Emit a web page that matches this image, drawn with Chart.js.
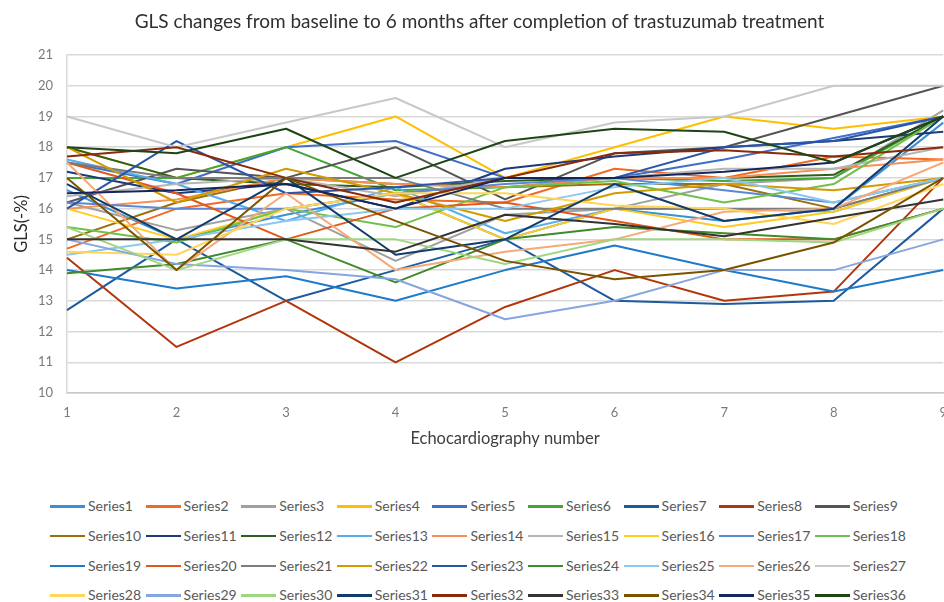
<!DOCTYPE html>
<html>
<head>
<meta charset="utf-8">
<script src="https://cdn.jsdelivr.net/npm/chart.js@4/dist/chart.umd.min.js"></script>
<style>
  html, body { margin: 0; padding: 0; background: #fff; overflow: hidden; }
  #wrap { position: relative; width: 944px; height: 602px; overflow: hidden; }
  #glsChart { position: absolute; left: 0; top: 0; }
  .item { position: absolute; height: 20px; line-height: 20px; white-space: nowrap;
          font-family: Lato, sans-serif; font-size: 14px; color: #595959; }
  .item .swatch { position: absolute; left: 0; top: 9px; width: 35px; height: 2.5px; }
  .item .label { position: absolute; left: 38px; top: 0; }
</style>
</head>
<body>
<div id="wrap">
  <canvas id="glsChart" width="959" height="470"></canvas>
  <div id="legend"></div>
</div>
<script>
// GLS values per patient, echocardiography 1..9
const echoNumbers = ['1', '2', '3', '4', '5', '6', '7', '8', '9'];

const series1  = [16.6, 15.0, 15.8, 16.5, 15.0, 16.0, 15.6, 16.0, 18.8];
const series2  = [14.7, 16.0, 16.5, 16.3, 16.2, 17.3, 17.0, 17.7, 17.6];
const series3  = [16.2, 15.3, 16.0, 14.3, 15.8, 16.0, 16.8, 17.0, 19.2];
const series4  = [18.0, 17.0, 18.0, 19.0, 17.0, 18.0, 19.0, 18.6, 19.0];
const series5  = [17.5, 16.8, 18.0, 18.2, 17.0, 17.0, 17.6, 18.3, 19.0];
const series6  = [17.0, 17.0, 18.0, 16.6, 16.7, 17.0, 16.9, 17.0, 19.0];
const series7  = [12.7, 15.0, 13.0, 14.0, 15.0, 13.0, 12.9, 13.0, 16.0];
const series8  = [14.4, 11.5, 13.0, 11.0, 12.8, 14.0, 13.0, 13.3, 17.0];
const series9  = [16.2, 17.3, 17.0, 18.0, 16.3, 17.8, 18.0, 19.0, 20.0];
const series10 = [15.0, 16.2, 17.0, 16.8, 16.7, 16.8, 16.8, 16.0, 17.0];
const series11 = [17.2, 16.5, 16.8, 16.0, 17.3, 17.7, 18.0, 18.2, 18.5];
const series12 = [18.0, 17.0, 16.8, 16.7, 16.9, 17.0, 17.0, 17.1, 19.0];
const series13 = [17.6, 16.8, 15.6, 16.7, 15.2, 16.0, 16.0, 15.9, 17.0];
const series14 = [16.0, 16.3, 17.0, 16.8, 16.7, 17.0, 17.0, 17.3, 17.6];
const series15 = [16.4, 16.8, 17.0, 16.4, 17.0, 17.0, 17.3, 17.3, 18.0];
const series16 = [16.0, 15.0, 16.0, 16.5, 15.0, 16.0, 15.4, 15.9, 17.0];
const series17 = [16.2, 16.0, 16.0, 16.5, 16.8, 17.0, 16.6, 16.2, 17.0];
const series18 = [15.4, 14.9, 16.0, 15.4, 16.7, 16.9, 16.2, 16.8, 19.0];
const series19 = [14.0, 13.4, 13.8, 13.0, 14.0, 14.8, 14.0, 13.3, 14.0];
const series20 = [17.5, 16.5, 15.0, 16.0, 16.2, 15.6, 15.0, 15.0, 16.0];
const series21 = [17.5, 17.0, 17.0, 17.0, 16.0, 16.0, 16.0, 16.0, 17.0];
const series22 = [18.0, 16.2, 17.3, 16.5, 15.6, 16.5, 16.8, 16.6, 17.0];
const series23 = [16.0, 18.2, 16.5, 16.7, 17.0, 17.0, 18.0, 18.2, 19.0];
const series24 = [13.9, 14.2, 15.0, 13.6, 15.0, 15.4, 15.2, 15.0, 16.0];
const series25 = [14.5, 15.0, 15.6, 16.0, 16.0, 16.7, 17.0, 16.2, 17.0];
const series26 = [17.5, 14.0, 16.5, 14.0, 14.6, 15.0, 15.9, 16.0, 17.5];
const series27 = [19.0, 18.0, 18.8, 19.6, 18.0, 18.8, 19.0, 20.0, 20.0];
const series28 = [14.6, 14.5, 16.0, 16.5, 16.5, 16.1, 16.0, 15.5, 16.8];
const series29 = [15.0, 14.2, 14.0, 13.7, 12.4, 13.0, 14.0, 14.0, 15.0];
const series30 = [15.4, 14.0, 15.0, 15.0, 14.2, 15.0, 15.0, 14.9, 16.0];
const series31 = [16.8, 15.0, 17.0, 14.5, 15.0, 16.8, 15.6, 16.0, 19.0];
const series32 = [17.7, 18.0, 17.0, 16.2, 17.0, 17.8, 17.9, 17.7, 18.0];
const series33 = [15.0, 15.0, 15.0, 14.6, 15.8, 15.5, 15.1, 15.7, 16.3];
const series34 = [17.0, 14.0, 17.0, 15.6, 14.3, 13.7, 14.0, 14.9, 17.0];
const series35 = [16.5, 16.6, 16.8, 16.0, 17.0, 17.0, 17.2, 17.5, 19.0];
const series36 = [18.0, 17.8, 18.6, 17.0, 18.2, 18.6, 18.5, 17.5, 19.0];

const allSeries = [
  series1, series2, series3, series4, series5, series6, series7, series8, series9,
  series10, series11, series12, series13, series14, series15, series16, series17, series18,
  series19, series20, series21, series22, series23, series24, series25, series26, series27,
  series28, series29, series30, series31, series32, series33, series34, series35, series36
];

// office style palette
const colors = [
  '#3a8fd9', '#f26b21', '#a0a0a0', '#ffbf00', '#3f6fc9', '#45a535', '#1d5a9e', '#b2360c', '#555555',
  '#99700a', '#1f3a7a', '#2f5f1e', '#55adeb', '#f59155', '#b5b5b5', '#ffcb1f', '#5b88d6', '#6fc04c',
  '#1f7ac9', '#e2581a', '#7d7d7d', '#d29b00', '#2a55a8', '#3f8a2a', '#8cc7ee', '#f6a97a', '#c8c8c8',
  '#ffd65a', '#86a6e0', '#9fd680', '#123d6b', '#8a2a08', '#333333', '#7a5300', '#15265a', '#1f4515'
];

const tickFont = { family: 'Lato', size: 13 };

const datasets = allSeries.map((values, i) => ({
  label: 'Series' + (i + 1),
  data: values,
  borderColor: colors[i],
  backgroundColor: colors[i],
  borderWidth: 2,
  pointRadius: 0,
  tension: 0,
  fill: false,
  borderJoinStyle: 'round',
  order: allSeries.length - i   // later series on top, like excel
}));

const ctx = document.getElementById('glsChart').getContext('2d');
const chart = new Chart(ctx, {
  type: 'line',
  data: { labels: echoNumbers, datasets: datasets },
  options: {
    responsive: false,
    animation: false,
    layout: { padding: { left: 0, right: 0, top: 0, bottom: 17 } },
    plugins: {
      legend: { display: false },
      tooltip: { enabled: false },
      title: {
        display: true,
        text: 'GLS changes from baseline to 6 months after completion of trastuzumab treatment',
        color: '#303030',
        font: { family: 'Lato', size: 19, weight: 'normal' },
        padding: { top: 10.5, bottom: 21.7 }
      }
    },
    scales: {
      x: {
        grid: { display: false, drawTicks: false },
        border: { display: true, color: '#c8c8c8', width: 1.5 },
        ticks: { color: '#7a7a7a', font: tickFont, padding: 12, maxRotation: 0 },
        title: {
          display: true, text: 'Echocardiography number', color: '#404040',
          font: { family: 'Lato', size: 16.5 }, padding: { top: 8, bottom: 4 }
        },
        afterFit: function (scale) { scale.height = 60; }
      },
      y: {
        min: 10, max: 21,
        ticks: { stepSize: 1, color: '#7a7a7a', font: tickFont, padding: 14 },
        grid: { color: '#d9d9d9', lineWidth: 1.5, drawTicks: false },
        border: { display: true, color: '#d9d9d9', width: 1.5 },
        title: {
          display: true, text: 'GLS(-%)', color: '#262626',
          font: { family: 'Lato', size: 16.5 }, padding: { top: 12, bottom: 0 }
        },
        afterFit: function (scale) { scale.width = 67; }
      }
    }
  }
});

// Legend: 4 rows x 9 columns, built from the chart datasets
const legendDiv = document.getElementById('legend');
chart.data.datasets.forEach((ds, i) => {
  const row = Math.floor(i / 9);
  const col = i % 9;
  const item = document.createElement('div');
  item.className = 'item';
  item.style.left = (50 + col * 95.6) + 'px';
  item.style.top = (496 + row * 29.8) + 'px';
  item.innerHTML = '<span class="swatch" style="background:' + ds.borderColor + '"></span>' +
                   '<span class="label">' + ds.label + '</span>';
  legendDiv.appendChild(item);
});
</script>
</body>
</html>
